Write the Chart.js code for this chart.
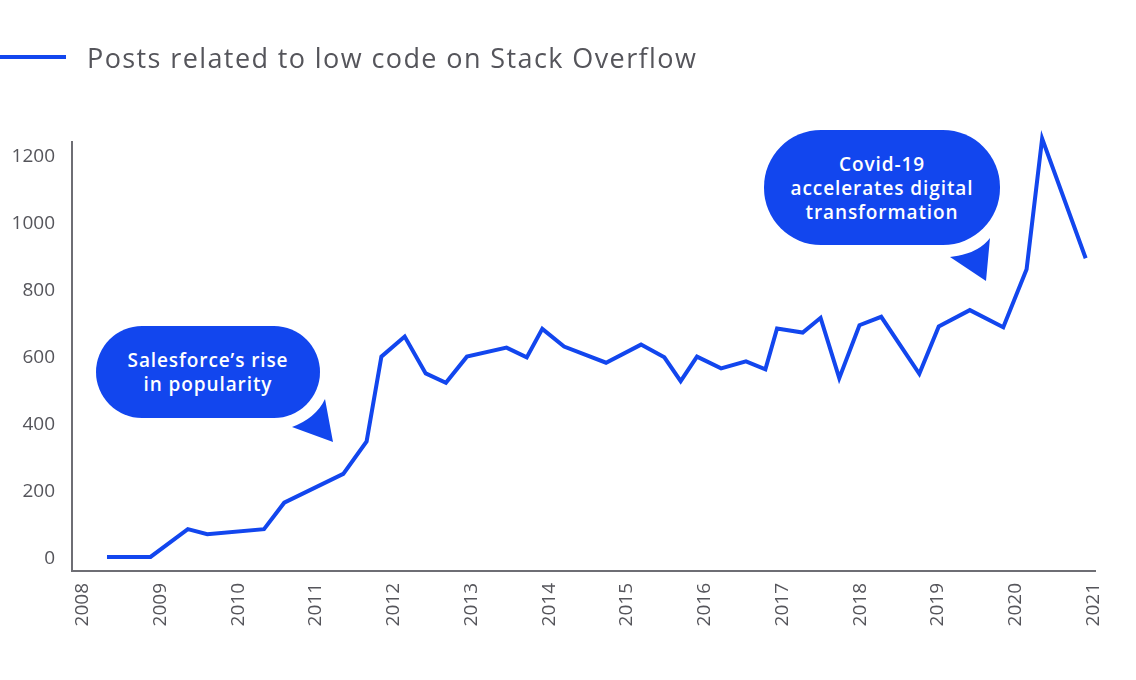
<!DOCTYPE html>
<html>
<head>
<meta charset="utf-8">
<script src="https://cdn.jsdelivr.net/npm/chart.js@4"></script>
<style>
  body { margin: 0; background: #fff; }
  #wrap { position: relative; width: 1136px; height: 680px; font-family: "Open Sans", sans-serif; }
  canvas { position: absolute; left: 0; top: 0; }
  .legend { position: absolute; left: 0; top: 37px; height: 40px; display: flex; align-items: center; }
  .legend .swatch { width: 66px; height: 4px; background: #1246ee; }
  .legend .txt { margin-left: 21px; font-size: 27px; letter-spacing: 1.4px; color: #55555b; }
  .bubble { position: absolute; background: #1246ee; color: #fff; font-weight: 600; font-size: 19px;
    letter-spacing: 0.9px; line-height: 24px; text-align: center; display: flex; align-items: center; justify-content: center; }
  svg.tail { position: absolute; left: 0; top: 0; }
</style>
</head>
<body>
<div id="wrap">
  <canvas id="line-chart" width="1136" height="680"></canvas>
  <div class="legend"><div class="swatch"></div><div class="txt">Posts related to low code on Stack Overflow</div></div>
  <div class="bubble" style="left:96px;top:326px;width:224px;height:92px;border-radius:46px;">Salesforce’s rise<br>in popularity</div>
  <div class="bubble" style="left:764px;top:130px;width:236px;height:115px;border-radius:57px;">Covid-19<br>accelerates digital<br>transformation</div>
  <svg class="tail" width="1136" height="680">
    <path d="M292 427 Q316 418 325 399 L333 442 Z" fill="#1246ee"/>
    <path d="M950 257 Q978 254 990 238 L986 281 Z" fill="#1246ee"/>
  </svg>
</div>
<script>
const dates = [2008.31, 2008.87, 2009.35, 2009.60, 2010.33, 2010.59, 2011.35, 2011.65, 2011.84,
  2012.14, 2012.41, 2012.67, 2012.94, 2013.45, 2013.71, 2013.91, 2014.19, 2014.73, 2015.18,
  2015.48, 2015.69, 2015.90, 2016.21, 2016.53, 2016.78, 2016.93, 2017.26, 2017.49, 2017.73,
  2017.99, 2018.27, 2018.76, 2019.01, 2019.41, 2019.84, 2020.14, 2020.34, 2020.90];
const posts = [6, 6, 89, 74, 89, 168, 254, 351, 604,
  664, 554, 526, 604, 631, 602, 687, 634, 586, 640,
  602, 531, 604, 569, 590, 566, 688, 676, 720, 540,
  698, 723, 553, 694, 743, 692, 865, 1255, 898];
const yearTicks = [2008, 2009, 2010, 2011, 2012, 2013, 2014, 2015, 2016, 2017, 2018, 2019, 2020, 2021];
const valueTicks = [0, 200, 400, 600, 800, 1000, 1200];

const points = dates.map(function (d, i) {
  return { x: d, y: posts[i] };
});

const axisColor = "#6e6e74";
const labelColor = "#55555b";

new Chart(document.getElementById("line-chart"), {
  type: "line",
  data: {
    datasets: [
      {
        label: "Posts related to low code on Stack Overflow",
        data: points,
        borderColor: "#1246ee",
        borderWidth: 4,
        pointRadius: 0,
        tension: 0,
        fill: false,
        clip: false,
      },
    ],
  },
  options: {
    responsive: false,
    animation: false,
    layout: { padding: { top: 142, right: 41, left: 0, bottom: 0 } },
    plugins: { legend: { display: false }, tooltip: { enabled: false } },
    scales: {
      x: {
        type: "linear",
        min: 2007.86,
        max: 2021.02,
        afterBuildTicks: function (scale) {
          scale.ticks = yearTicks.map(function (v) { return { value: v }; });
        },
        afterFit: function (scale) { scale.height = 109; },
        grid: { display: false, drawTicks: false },
        border: { color: axisColor, width: 2 },
        ticks: {
          autoSkip: false,
          minRotation: 90,
          maxRotation: 90,
          padding: 12,
          color: labelColor,
          font: { family: "Open Sans", size: 19 },
          callback: function (v) { return String(v); },
        },
      },
      y: {
        min: -36,
        max: 1245,
        afterBuildTicks: function (scale) {
          scale.ticks = valueTicks.map(function (v) { return { value: v }; });
        },
        afterFit: function (scale) { scale.width = 72; },
        grid: { display: false, drawTicks: false },
        border: { color: axisColor, width: 2 },
        ticks: {
          padding: 17,
          color: labelColor,
          font: { family: "Open Sans", size: 19 },
          callback: function (v) { return String(v); },
        },
      },
    },
  },
});
</script>
</body>
</html>
